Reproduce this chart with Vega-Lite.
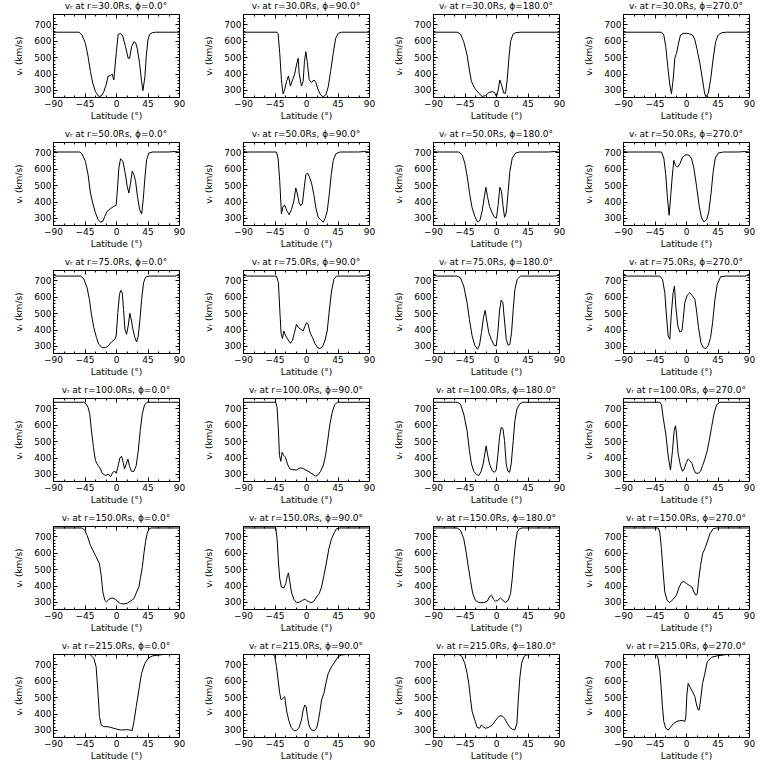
{
"$schema": "https://vega.github.io/schema/vega-lite/v6.json",
"padding": {"left": 14, "top": 1, "right": 0, "bottom": 0},
"background": "white",
"datasets": {
"panels": [
{"p":0,"title":"vᵣ at r=30.0Rs, ϕ=0.0°"},{"p":1,"title":"vᵣ at r=30.0Rs, ϕ=90.0°"},{"p":2,"title":"vᵣ at r=30.0Rs, ϕ=180.0°"},{"p":3,"title":"vᵣ at r=30.0Rs, ϕ=270.0°"},
{"p":4,"title":"vᵣ at r=50.0Rs, ϕ=0.0°"},{"p":5,"title":"vᵣ at r=50.0Rs, ϕ=90.0°"},{"p":6,"title":"vᵣ at r=50.0Rs, ϕ=180.0°"},{"p":7,"title":"vᵣ at r=50.0Rs, ϕ=270.0°"},
{"p":8,"title":"vᵣ at r=75.0Rs, ϕ=0.0°"},{"p":9,"title":"vᵣ at r=75.0Rs, ϕ=90.0°"},{"p":10,"title":"vᵣ at r=75.0Rs, ϕ=180.0°"},{"p":11,"title":"vᵣ at r=75.0Rs, ϕ=270.0°"},
{"p":12,"title":"vᵣ at r=100.0Rs, ϕ=0.0°"},{"p":13,"title":"vᵣ at r=100.0Rs, ϕ=90.0°"},{"p":14,"title":"vᵣ at r=100.0Rs, ϕ=180.0°"},{"p":15,"title":"vᵣ at r=100.0Rs, ϕ=270.0°"},
{"p":16,"title":"vᵣ at r=150.0Rs, ϕ=0.0°"},{"p":17,"title":"vᵣ at r=150.0Rs, ϕ=90.0°"},{"p":18,"title":"vᵣ at r=150.0Rs, ϕ=180.0°"},{"p":19,"title":"vᵣ at r=150.0Rs, ϕ=270.0°"},
{"p":20,"title":"vᵣ at r=215.0Rs, ϕ=0.0°"},{"p":21,"title":"vᵣ at r=215.0Rs, ϕ=90.0°"},{"p":22,"title":"vᵣ at r=215.0Rs, ϕ=180.0°"},{"p":23,"title":"vᵣ at r=215.0Rs, ϕ=270.0°"}
],
"curves": [
{"p":0,"lat":-90,"v":652},{"p":0,"lat":-53,"v":652},{"p":0,"lat":-48.5,"v":635},{"p":0,"lat":-43.7,"v":584},{"p":0,"lat":-39.9,"v":503},{"p":0,"lat":-36.5,"v":412},{"p":0,"lat":-33.2,"v":341},{"p":0,"lat":-29.4,"v":290},{"p":0,"lat":-24.6,"v":260},{"p":0,"lat":-20.8,"v":264},{"p":0,"lat":-17.4,"v":290},{"p":0,"lat":-14.1,"v":331},{"p":0,"lat":-11.2,"v":385},{"p":0,"lat":-7.9,"v":387},{"p":0,"lat":-5.5,"v":397},{"p":0,"lat":-3.1,"v":361},{"p":0,"lat":0.3,"v":523},{"p":0,"lat":3.1,"v":639},{"p":0,"lat":6.5,"v":645},{"p":0,"lat":9.8,"v":625},{"p":0,"lat":13.6,"v":564},{"p":0,"lat":17.4,"v":493},{"p":0,"lat":19.4,"v":493},{"p":0,"lat":22.2,"v":564},{"p":0,"lat":25.6,"v":594},{"p":0,"lat":28,"v":588},{"p":0,"lat":30.3,"v":554},{"p":0,"lat":33.7,"v":462},{"p":0,"lat":36.6,"v":351},{"p":0,"lat":38.5,"v":296},{"p":0,"lat":41.3,"v":381},{"p":0,"lat":43.2,"v":503},{"p":0,"lat":45.6,"v":605},{"p":0,"lat":48,"v":639},{"p":0,"lat":51.8,"v":649},{"p":0,"lat":56.6,"v":652},{"p":0,"lat":90,"v":652},
{"p":1,"lat":-90,"v":652},{"p":1,"lat":-41.5,"v":652},{"p":1,"lat":-39.9,"v":645},{"p":1,"lat":-37.5,"v":523},{"p":1,"lat":-35.1,"v":361},{"p":1,"lat":-32.7,"v":276},{"p":1,"lat":-30.3,"v":304},{"p":1,"lat":-27.9,"v":351},{"p":1,"lat":-25.1,"v":385},{"p":1,"lat":-22.2,"v":324},{"p":1,"lat":-19.3,"v":361},{"p":1,"lat":-16.5,"v":391},{"p":1,"lat":-13.6,"v":452},{"p":1,"lat":-11.2,"v":493},{"p":1,"lat":-9.8,"v":402},{"p":1,"lat":-6.5,"v":324},{"p":1,"lat":-4.1,"v":351},{"p":1,"lat":-2.2,"v":473},{"p":1,"lat":-0.2,"v":533},{"p":1,"lat":1.7,"v":473},{"p":1,"lat":4.6,"v":361},{"p":1,"lat":7.9,"v":345},{"p":1,"lat":11.2,"v":361},{"p":1,"lat":14.1,"v":345},{"p":1,"lat":17.4,"v":300},{"p":1,"lat":20.8,"v":270},{"p":1,"lat":24.6,"v":258},{"p":1,"lat":28.4,"v":270},{"p":1,"lat":31.8,"v":320},{"p":1,"lat":35.1,"v":412},{"p":1,"lat":38.9,"v":523},{"p":1,"lat":42.3,"v":615},{"p":1,"lat":46.1,"v":645},{"p":1,"lat":50.9,"v":652},{"p":1,"lat":90,"v":652},
{"p":2,"lat":-90,"v":652},{"p":2,"lat":-55.6,"v":652},{"p":2,"lat":-50.8,"v":641},{"p":2,"lat":-46.1,"v":594},{"p":2,"lat":-41.3,"v":513},{"p":2,"lat":-38,"v":422},{"p":2,"lat":-35.1,"v":351},{"p":2,"lat":-30.3,"v":310},{"p":2,"lat":-24.6,"v":280},{"p":2,"lat":-19.8,"v":260},{"p":2,"lat":-15,"v":266},{"p":2,"lat":-10.3,"v":284},{"p":2,"lat":-5.5,"v":290},{"p":2,"lat":-2.1,"v":284},{"p":2,"lat":0.7,"v":260},{"p":2,"lat":3.1,"v":300},{"p":2,"lat":5.5,"v":361},{"p":2,"lat":7.9,"v":331},{"p":2,"lat":11.2,"v":280},{"p":2,"lat":13.6,"v":280},{"p":2,"lat":16,"v":361},{"p":2,"lat":18.4,"v":493},{"p":2,"lat":20.8,"v":594},{"p":2,"lat":24.1,"v":639},{"p":2,"lat":27.9,"v":649},{"p":2,"lat":35.1,"v":652},{"p":2,"lat":90,"v":652},
{"p":3,"lat":-90,"v":652},{"p":3,"lat":-35.1,"v":652},{"p":3,"lat":-31.7,"v":635},{"p":3,"lat":-28.9,"v":564},{"p":3,"lat":-26,"v":442},{"p":3,"lat":-23.1,"v":331},{"p":3,"lat":-20.8,"v":276},{"p":3,"lat":-18.4,"v":361},{"p":3,"lat":-16,"v":493},{"p":3,"lat":-13.6,"v":523},{"p":3,"lat":-11.2,"v":574},{"p":3,"lat":-7.9,"v":635},{"p":3,"lat":-4,"v":645},{"p":3,"lat":3.1,"v":645},{"p":3,"lat":9.3,"v":635},{"p":3,"lat":12.7,"v":605},{"p":3,"lat":16,"v":544},{"p":3,"lat":19.8,"v":462},{"p":3,"lat":23.7,"v":361},{"p":3,"lat":26.5,"v":280},{"p":3,"lat":28.4,"v":258},{"p":3,"lat":31.8,"v":280},{"p":3,"lat":35.1,"v":361},{"p":3,"lat":38.9,"v":493},{"p":3,"lat":42.3,"v":594},{"p":3,"lat":46.1,"v":635},{"p":3,"lat":50.9,"v":649},{"p":3,"lat":58,"v":652},{"p":3,"lat":90,"v":652},
{"p":4,"lat":-90,"v":706},{"p":4,"lat":-84,"v":702},{"p":4,"lat":-51.8,"v":702},{"p":4,"lat":-48.5,"v":690},{"p":4,"lat":-43.7,"v":645},{"p":4,"lat":-39.9,"v":564},{"p":4,"lat":-36.5,"v":452},{"p":4,"lat":-33.2,"v":391},{"p":4,"lat":-29.4,"v":331},{"p":4,"lat":-25.5,"v":290},{"p":4,"lat":-22.2,"v":274},{"p":4,"lat":-18.8,"v":280},{"p":4,"lat":-15.9,"v":310},{"p":4,"lat":-12.6,"v":341},{"p":4,"lat":-7.9,"v":357},{"p":4,"lat":-3.1,"v":371},{"p":4,"lat":0.2,"v":377},{"p":4,"lat":2.2,"v":483},{"p":4,"lat":4.1,"v":605},{"p":4,"lat":6.5,"v":661},{"p":4,"lat":9.8,"v":645},{"p":4,"lat":12.7,"v":584},{"p":4,"lat":16,"v":493},{"p":4,"lat":18.4,"v":452},{"p":4,"lat":20.8,"v":513},{"p":4,"lat":23.2,"v":584},{"p":4,"lat":25.6,"v":564},{"p":4,"lat":28,"v":523},{"p":4,"lat":30.3,"v":442},{"p":4,"lat":33.7,"v":351},{"p":4,"lat":36.6,"v":324},{"p":4,"lat":38.9,"v":412},{"p":4,"lat":41.3,"v":544},{"p":4,"lat":43.7,"v":655},{"p":4,"lat":47.1,"v":696},{"p":4,"lat":51.8,"v":702},{"p":4,"lat":75,"v":702},{"p":4,"lat":84,"v":705},{"p":4,"lat":90,"v":702},
{"p":5,"lat":-90,"v":706},{"p":5,"lat":-84,"v":702},{"p":5,"lat":-42.2,"v":702},{"p":5,"lat":-39.9,"v":665},{"p":5,"lat":-37.5,"v":523},{"p":5,"lat":-35.1,"v":324},{"p":5,"lat":-32.7,"v":371},{"p":5,"lat":-30.3,"v":377},{"p":5,"lat":-27,"v":341},{"p":5,"lat":-24.1,"v":320},{"p":5,"lat":-20.8,"v":351},{"p":5,"lat":-17.4,"v":402},{"p":5,"lat":-14.6,"v":483},{"p":5,"lat":-12.6,"v":452},{"p":5,"lat":-9.8,"v":391},{"p":5,"lat":-7.4,"v":375},{"p":5,"lat":-5,"v":391},{"p":5,"lat":-2.6,"v":483},{"p":5,"lat":-0.2,"v":564},{"p":5,"lat":2.1,"v":574},{"p":5,"lat":4.5,"v":554},{"p":5,"lat":7.9,"v":513},{"p":5,"lat":11.2,"v":442},{"p":5,"lat":14.1,"v":361},{"p":5,"lat":17.4,"v":304},{"p":5,"lat":20.8,"v":290},{"p":5,"lat":24.6,"v":274},{"p":5,"lat":27.5,"v":300},{"p":5,"lat":30.3,"v":341},{"p":5,"lat":33.2,"v":442},{"p":5,"lat":36.1,"v":564},{"p":5,"lat":38.9,"v":651},{"p":5,"lat":42.8,"v":692},{"p":5,"lat":48.5,"v":702},{"p":5,"lat":75,"v":702},{"p":5,"lat":84,"v":705},{"p":5,"lat":90,"v":702},
{"p":6,"lat":-90,"v":706},{"p":6,"lat":-84,"v":702},{"p":6,"lat":-53.2,"v":702},{"p":6,"lat":-48.5,"v":686},{"p":6,"lat":-44.6,"v":635},{"p":6,"lat":-40.8,"v":544},{"p":6,"lat":-37.5,"v":442},{"p":6,"lat":-34.1,"v":361},{"p":6,"lat":-30.3,"v":310},{"p":6,"lat":-26.5,"v":276},{"p":6,"lat":-23.1,"v":284},{"p":6,"lat":-19.8,"v":341},{"p":6,"lat":-16.9,"v":422},{"p":6,"lat":-14.5,"v":487},{"p":6,"lat":-12.2,"v":432},{"p":6,"lat":-9.3,"v":371},{"p":6,"lat":-5.5,"v":331},{"p":6,"lat":-2.1,"v":304},{"p":6,"lat":0.7,"v":300},{"p":6,"lat":3.1,"v":381},{"p":6,"lat":5.5,"v":487},{"p":6,"lat":7.9,"v":462},{"p":6,"lat":9.8,"v":381},{"p":6,"lat":12.2,"v":304},{"p":6,"lat":14.6,"v":331},{"p":6,"lat":17.4,"v":462},{"p":6,"lat":19.8,"v":584},{"p":6,"lat":23.2,"v":665},{"p":6,"lat":28,"v":696},{"p":6,"lat":33.7,"v":702},{"p":6,"lat":75,"v":702},{"p":6,"lat":84,"v":705},{"p":6,"lat":90,"v":702},
{"p":7,"lat":-90,"v":706},{"p":7,"lat":-84,"v":702},{"p":7,"lat":-35.1,"v":702},{"p":7,"lat":-31.7,"v":665},{"p":7,"lat":-28.9,"v":564},{"p":7,"lat":-26.5,"v":422},{"p":7,"lat":-24.1,"v":316},{"p":7,"lat":-21.7,"v":442},{"p":7,"lat":-19.8,"v":544},{"p":7,"lat":-17.4,"v":651},{"p":7,"lat":-15,"v":621},{"p":7,"lat":-12.2,"v":609},{"p":7,"lat":-8.8,"v":629},{"p":7,"lat":-5,"v":670},{"p":7,"lat":-0.2,"v":686},{"p":7,"lat":4.5,"v":682},{"p":7,"lat":7.9,"v":661},{"p":7,"lat":11.2,"v":605},{"p":7,"lat":15.1,"v":493},{"p":7,"lat":18.9,"v":371},{"p":7,"lat":22.2,"v":300},{"p":7,"lat":25.6,"v":276},{"p":7,"lat":29.4,"v":290},{"p":7,"lat":32.3,"v":331},{"p":7,"lat":35.6,"v":442},{"p":7,"lat":38.9,"v":584},{"p":7,"lat":41.8,"v":665},{"p":7,"lat":46.1,"v":696},{"p":7,"lat":53.3,"v":702},{"p":7,"lat":75,"v":702},{"p":7,"lat":84,"v":705},{"p":7,"lat":90,"v":702},
{"p":8,"lat":-90,"v":731},{"p":8,"lat":-84,"v":726},{"p":8,"lat":-50.8,"v":726},{"p":8,"lat":-46.1,"v":710},{"p":8,"lat":-41.3,"v":655},{"p":8,"lat":-38,"v":584},{"p":8,"lat":-35.1,"v":493},{"p":8,"lat":-31.7,"v":412},{"p":8,"lat":-27.9,"v":351},{"p":8,"lat":-24.6,"v":310},{"p":8,"lat":-19.8,"v":290},{"p":8,"lat":-15,"v":290},{"p":8,"lat":-11.2,"v":300},{"p":8,"lat":-6.4,"v":324},{"p":8,"lat":-1.7,"v":341},{"p":8,"lat":0.3,"v":361},{"p":8,"lat":2.6,"v":503},{"p":8,"lat":5,"v":615},{"p":8,"lat":6.9,"v":639},{"p":8,"lat":8.9,"v":625},{"p":8,"lat":10.8,"v":523},{"p":8,"lat":12.7,"v":402},{"p":8,"lat":15.1,"v":371},{"p":8,"lat":17.4,"v":422},{"p":8,"lat":19.8,"v":499},{"p":8,"lat":22.2,"v":452},{"p":8,"lat":24.1,"v":402},{"p":8,"lat":27,"v":351},{"p":8,"lat":29.4,"v":324},{"p":8,"lat":31.8,"v":361},{"p":8,"lat":34.2,"v":462},{"p":8,"lat":36.6,"v":584},{"p":8,"lat":39.4,"v":686},{"p":8,"lat":42.3,"v":720},{"p":8,"lat":47.1,"v":726},{"p":8,"lat":84,"v":726},{"p":8,"lat":90,"v":731},
{"p":9,"lat":-90,"v":731},{"p":9,"lat":-84,"v":726},{"p":9,"lat":-42.2,"v":726},{"p":9,"lat":-39.4,"v":686},{"p":9,"lat":-37.5,"v":523},{"p":9,"lat":-35.6,"v":377},{"p":9,"lat":-33.6,"v":345},{"p":9,"lat":-31.7,"v":391},{"p":9,"lat":-28.9,"v":361},{"p":9,"lat":-25.5,"v":337},{"p":9,"lat":-22.2,"v":316},{"p":9,"lat":-19.3,"v":335},{"p":9,"lat":-16.5,"v":381},{"p":9,"lat":-13.6,"v":432},{"p":9,"lat":-10.7,"v":412},{"p":9,"lat":-7.4,"v":402},{"p":9,"lat":-4.1,"v":391},{"p":9,"lat":-1.7,"v":418},{"p":9,"lat":0.7,"v":442},{"p":9,"lat":3.1,"v":432},{"p":9,"lat":5.5,"v":385},{"p":9,"lat":9.3,"v":351},{"p":9,"lat":12.7,"v":316},{"p":9,"lat":16.5,"v":290},{"p":9,"lat":19.8,"v":284},{"p":9,"lat":23.7,"v":296},{"p":9,"lat":27,"v":331},{"p":9,"lat":30.3,"v":391},{"p":9,"lat":33.2,"v":513},{"p":9,"lat":36.5,"v":635},{"p":9,"lat":39.9,"v":706},{"p":9,"lat":43.7,"v":726},{"p":9,"lat":84,"v":726},{"p":9,"lat":90,"v":731},
{"p":10,"lat":-90,"v":731},{"p":10,"lat":-84,"v":726},{"p":10,"lat":-55.6,"v":726},{"p":10,"lat":-50.8,"v":716},{"p":10,"lat":-46.1,"v":665},{"p":10,"lat":-41.3,"v":564},{"p":10,"lat":-38,"v":462},{"p":10,"lat":-34.1,"v":361},{"p":10,"lat":-30.3,"v":304},{"p":10,"lat":-26.5,"v":280},{"p":10,"lat":-23.6,"v":304},{"p":10,"lat":-20.8,"v":381},{"p":10,"lat":-17.9,"v":473},{"p":10,"lat":-15.5,"v":517},{"p":10,"lat":-13.1,"v":452},{"p":10,"lat":-10.3,"v":381},{"p":10,"lat":-6.4,"v":337},{"p":10,"lat":-2.6,"v":304},{"p":10,"lat":0.3,"v":300},{"p":10,"lat":2.6,"v":381},{"p":10,"lat":5,"v":513},{"p":10,"lat":7.4,"v":580},{"p":10,"lat":9.8,"v":564},{"p":10,"lat":12.2,"v":452},{"p":10,"lat":14.6,"v":341},{"p":10,"lat":17.4,"v":304},{"p":10,"lat":19.8,"v":310},{"p":10,"lat":22.2,"v":381},{"p":10,"lat":24.6,"v":523},{"p":10,"lat":27,"v":645},{"p":10,"lat":30.3,"v":706},{"p":10,"lat":35.1,"v":726},{"p":10,"lat":84,"v":726},{"p":10,"lat":90,"v":731},
{"p":11,"lat":-90,"v":731},{"p":11,"lat":-84,"v":726},{"p":11,"lat":-37.5,"v":726},{"p":11,"lat":-33.6,"v":706},{"p":11,"lat":-30.3,"v":625},{"p":11,"lat":-27.9,"v":483},{"p":11,"lat":-25.5,"v":361},{"p":11,"lat":-23.1,"v":341},{"p":11,"lat":-21.2,"v":483},{"p":11,"lat":-18.4,"v":625},{"p":11,"lat":-16.5,"v":665},{"p":11,"lat":-14.6,"v":544},{"p":11,"lat":-11.7,"v":422},{"p":11,"lat":-8.8,"v":385},{"p":11,"lat":-5.9,"v":391},{"p":11,"lat":-4,"v":462},{"p":11,"lat":-1.7,"v":564},{"p":11,"lat":1.7,"v":609},{"p":11,"lat":5.5,"v":625},{"p":11,"lat":9.3,"v":605},{"p":11,"lat":12.7,"v":584},{"p":11,"lat":15.1,"v":513},{"p":11,"lat":17.9,"v":412},{"p":11,"lat":21.3,"v":320},{"p":11,"lat":24.6,"v":290},{"p":11,"lat":28.4,"v":284},{"p":11,"lat":31.8,"v":304},{"p":11,"lat":35.1,"v":351},{"p":11,"lat":38,"v":442},{"p":11,"lat":41.3,"v":584},{"p":11,"lat":44.7,"v":676},{"p":11,"lat":49.4,"v":722},{"p":11,"lat":58,"v":726},{"p":11,"lat":84,"v":726},{"p":11,"lat":90,"v":731},
{"p":12,"lat":-90,"v":737},{"p":12,"lat":-46.1,"v":737},{"p":12,"lat":-42.7,"v":726},{"p":12,"lat":-39.9,"v":706},{"p":12,"lat":-37.5,"v":665},{"p":12,"lat":-35.1,"v":564},{"p":12,"lat":-32.2,"v":462},{"p":12,"lat":-29.4,"v":381},{"p":12,"lat":-25.5,"v":351},{"p":12,"lat":-22.2,"v":331},{"p":12,"lat":-19.8,"v":304},{"p":12,"lat":-16.9,"v":296},{"p":12,"lat":-14.1,"v":290},{"p":12,"lat":-11.2,"v":300},{"p":12,"lat":-7.9,"v":284},{"p":12,"lat":-4.5,"v":310},{"p":12,"lat":-1.7,"v":316},{"p":12,"lat":0.3,"v":304},{"p":12,"lat":2.6,"v":341},{"p":12,"lat":5.5,"v":397},{"p":12,"lat":7.9,"v":408},{"p":12,"lat":10.3,"v":371},{"p":12,"lat":12.2,"v":331},{"p":12,"lat":14.6,"v":361},{"p":12,"lat":17,"v":391},{"p":12,"lat":19.4,"v":345},{"p":12,"lat":22.2,"v":316},{"p":12,"lat":25.6,"v":316},{"p":12,"lat":28.9,"v":351},{"p":12,"lat":31.8,"v":442},{"p":12,"lat":34.6,"v":564},{"p":12,"lat":37.5,"v":665},{"p":12,"lat":40.8,"v":722},{"p":12,"lat":44.7,"v":737},{"p":12,"lat":90,"v":737},
{"p":13,"lat":-90,"v":737},{"p":13,"lat":-43.2,"v":737},{"p":13,"lat":-41.3,"v":706},{"p":13,"lat":-39.4,"v":564},{"p":13,"lat":-37.9,"v":412},{"p":13,"lat":-36,"v":377},{"p":13,"lat":-34.1,"v":432},{"p":13,"lat":-31.7,"v":412},{"p":13,"lat":-29.4,"v":402},{"p":13,"lat":-26.5,"v":361},{"p":13,"lat":-23.1,"v":331},{"p":13,"lat":-19.3,"v":326},{"p":13,"lat":-13.6,"v":324},{"p":13,"lat":-8.8,"v":337},{"p":13,"lat":-5,"v":335},{"p":13,"lat":-0.2,"v":324},{"p":13,"lat":5.5,"v":310},{"p":13,"lat":10.3,"v":296},{"p":13,"lat":14.1,"v":286},{"p":13,"lat":17.4,"v":296},{"p":13,"lat":20.8,"v":316},{"p":13,"lat":24.6,"v":351},{"p":13,"lat":27.9,"v":412},{"p":13,"lat":31.3,"v":513},{"p":13,"lat":34.2,"v":605},{"p":13,"lat":37.5,"v":676},{"p":13,"lat":40.8,"v":722},{"p":13,"lat":45.1,"v":737},{"p":13,"lat":90,"v":737},
{"p":14,"lat":-90,"v":737},{"p":14,"lat":-55.6,"v":737},{"p":14,"lat":-50.8,"v":726},{"p":14,"lat":-46.1,"v":665},{"p":14,"lat":-41.3,"v":564},{"p":14,"lat":-38,"v":442},{"p":14,"lat":-35.1,"v":361},{"p":14,"lat":-31.7,"v":316},{"p":14,"lat":-27.9,"v":296},{"p":14,"lat":-24.6,"v":290},{"p":14,"lat":-21.2,"v":316},{"p":14,"lat":-18.4,"v":361},{"p":14,"lat":-16,"v":422},{"p":14,"lat":-14.1,"v":471},{"p":14,"lat":-12.2,"v":422},{"p":14,"lat":-9.3,"v":361},{"p":14,"lat":-5.5,"v":320},{"p":14,"lat":-2.1,"v":310},{"p":14,"lat":0.3,"v":324},{"p":14,"lat":2.6,"v":412},{"p":14,"lat":5,"v":523},{"p":14,"lat":7.4,"v":584},{"p":14,"lat":9.8,"v":578},{"p":14,"lat":12.2,"v":503},{"p":14,"lat":14.6,"v":361},{"p":14,"lat":17,"v":316},{"p":14,"lat":19.4,"v":310},{"p":14,"lat":21.7,"v":361},{"p":14,"lat":24.6,"v":503},{"p":14,"lat":27,"v":625},{"p":14,"lat":29.9,"v":696},{"p":14,"lat":33.7,"v":726},{"p":14,"lat":37.5,"v":737},{"p":14,"lat":90,"v":737},
{"p":15,"lat":-90,"v":737},{"p":15,"lat":-37.5,"v":737},{"p":15,"lat":-35,"v":722},{"p":15,"lat":-32.7,"v":645},{"p":15,"lat":-28.9,"v":544},{"p":15,"lat":-25.5,"v":412},{"p":15,"lat":-22.2,"v":324},{"p":15,"lat":-19.3,"v":442},{"p":15,"lat":-16.9,"v":564},{"p":15,"lat":-15,"v":594},{"p":15,"lat":-13.6,"v":544},{"p":15,"lat":-11.2,"v":422},{"p":15,"lat":-7.9,"v":351},{"p":15,"lat":-5,"v":316},{"p":15,"lat":-2.6,"v":331},{"p":15,"lat":0.7,"v":371},{"p":15,"lat":3.1,"v":391},{"p":15,"lat":5.5,"v":381},{"p":15,"lat":8.5,"v":365},{"p":15,"lat":11,"v":330},{"p":15,"lat":13.6,"v":306},{"p":15,"lat":17.4,"v":304},{"p":15,"lat":20.8,"v":316},{"p":15,"lat":23.7,"v":351},{"p":15,"lat":27,"v":391},{"p":15,"lat":30.3,"v":442},{"p":15,"lat":33.2,"v":503},{"p":15,"lat":36.5,"v":584},{"p":15,"lat":39.9,"v":665},{"p":15,"lat":43.7,"v":722},{"p":15,"lat":48.5,"v":737},{"p":15,"lat":90,"v":737},
{"p":16,"lat":-90,"v":751},{"p":16,"lat":-48.5,"v":751},{"p":16,"lat":-44.6,"v":737},{"p":16,"lat":-41.3,"v":706},{"p":16,"lat":-36.5,"v":645},{"p":16,"lat":-29.4,"v":584},{"p":16,"lat":-23.6,"v":533},{"p":16,"lat":-21.2,"v":462},{"p":16,"lat":-18.8,"v":361},{"p":16,"lat":-16,"v":310},{"p":16,"lat":-13.6,"v":300},{"p":16,"lat":-10.3,"v":316},{"p":16,"lat":-5.5,"v":324},{"p":16,"lat":-0.7,"v":316},{"p":16,"lat":3,"v":300},{"p":16,"lat":6.5,"v":290},{"p":16,"lat":11.2,"v":288},{"p":16,"lat":16,"v":292},{"p":16,"lat":20.8,"v":305},{"p":16,"lat":25.6,"v":320},{"p":16,"lat":29.4,"v":360},{"p":16,"lat":32.7,"v":391},{"p":16,"lat":35.1,"v":450},{"p":16,"lat":37.5,"v":510},{"p":16,"lat":40,"v":600},{"p":16,"lat":42.3,"v":670},{"p":16,"lat":44.7,"v":720},{"p":16,"lat":47.1,"v":743},{"p":16,"lat":50,"v":751},{"p":16,"lat":90,"v":751},
{"p":17,"lat":-90,"v":751},{"p":17,"lat":-43.2,"v":751},{"p":17,"lat":-41.3,"v":686},{"p":17,"lat":-39.4,"v":544},{"p":17,"lat":-37.5,"v":442},{"p":17,"lat":-35.1,"v":391},{"p":17,"lat":-31.7,"v":385},{"p":17,"lat":-28.9,"v":412},{"p":17,"lat":-26.5,"v":462},{"p":17,"lat":-25.1,"v":477},{"p":17,"lat":-23.1,"v":422},{"p":17,"lat":-20.8,"v":361},{"p":17,"lat":-17.4,"v":316},{"p":17,"lat":-13.6,"v":296},{"p":17,"lat":-8.8,"v":300},{"p":17,"lat":-5,"v":310},{"p":17,"lat":-1.7,"v":316},{"p":17,"lat":0.7,"v":310},{"p":17,"lat":4.5,"v":300},{"p":17,"lat":8.4,"v":296},{"p":17,"lat":11.2,"v":304},{"p":17,"lat":15.1,"v":331},{"p":17,"lat":18.9,"v":351},{"p":17,"lat":22.2,"v":391},{"p":17,"lat":25.6,"v":462},{"p":17,"lat":29.4,"v":544},{"p":17,"lat":32.7,"v":625},{"p":17,"lat":36.5,"v":686},{"p":17,"lat":40.4,"v":722},{"p":17,"lat":43.7,"v":747},{"p":17,"lat":48.5,"v":751},{"p":17,"lat":90,"v":751},
{"p":18,"lat":-90,"v":751},{"p":18,"lat":-55.6,"v":751},{"p":18,"lat":-50.8,"v":737},{"p":18,"lat":-46.1,"v":686},{"p":18,"lat":-42.7,"v":605},{"p":18,"lat":-39.9,"v":523},{"p":18,"lat":-36.5,"v":432},{"p":18,"lat":-33.2,"v":351},{"p":18,"lat":-29.4,"v":310},{"p":18,"lat":-24.6,"v":296},{"p":18,"lat":-17.4,"v":296},{"p":18,"lat":-12.6,"v":304},{"p":18,"lat":-9.3,"v":331},{"p":18,"lat":-6.4,"v":341},{"p":18,"lat":-3.6,"v":316},{"p":18,"lat":-0.7,"v":304},{"p":18,"lat":2.6,"v":310},{"p":18,"lat":6.5,"v":324},{"p":18,"lat":9.8,"v":310},{"p":18,"lat":13.6,"v":296},{"p":18,"lat":17.4,"v":310},{"p":18,"lat":20.8,"v":351},{"p":18,"lat":23.2,"v":442},{"p":18,"lat":25.6,"v":564},{"p":18,"lat":28,"v":665},{"p":18,"lat":30.3,"v":726},{"p":18,"lat":33.7,"v":747},{"p":18,"lat":37.5,"v":751},{"p":18,"lat":90,"v":751},
{"p":19,"lat":-90,"v":751},{"p":19,"lat":-39.9,"v":751},{"p":19,"lat":-37.5,"v":726},{"p":19,"lat":-35.1,"v":625},{"p":19,"lat":-32.7,"v":483},{"p":19,"lat":-30.3,"v":361},{"p":19,"lat":-27,"v":310},{"p":19,"lat":-23.1,"v":296},{"p":19,"lat":-18.4,"v":316},{"p":19,"lat":-13.6,"v":341},{"p":19,"lat":-9.8,"v":391},{"p":19,"lat":-6.4,"v":418},{"p":19,"lat":-3.1,"v":426},{"p":19,"lat":0.7,"v":412},{"p":19,"lat":4.5,"v":402},{"p":19,"lat":8.4,"v":391},{"p":19,"lat":11.2,"v":361},{"p":19,"lat":14.1,"v":341},{"p":19,"lat":16,"v":351},{"p":19,"lat":18.4,"v":442},{"p":19,"lat":20.8,"v":523},{"p":19,"lat":23.7,"v":594},{"p":19,"lat":27,"v":625},{"p":19,"lat":30.3,"v":665},{"p":19,"lat":34.2,"v":716},{"p":19,"lat":38.9,"v":747},{"p":19,"lat":43.7,"v":751},{"p":19,"lat":90,"v":751},
{"p":20,"lat":-90,"v":761},{"p":20,"lat":-40,"v":761},{"p":20,"lat":-36.5,"v":757},{"p":20,"lat":-31.7,"v":737},{"p":20,"lat":-28.4,"v":686},{"p":20,"lat":-26,"v":544},{"p":20,"lat":-23.6,"v":381},{"p":20,"lat":-21.2,"v":331},{"p":20,"lat":-17.4,"v":320},{"p":20,"lat":-12.6,"v":320},{"p":20,"lat":-7.9,"v":316},{"p":20,"lat":-3.1,"v":310},{"p":20,"lat":1.7,"v":304},{"p":20,"lat":6.5,"v":300},{"p":20,"lat":11.2,"v":300},{"p":20,"lat":14.6,"v":302},{"p":20,"lat":19.4,"v":300},{"p":20,"lat":23.2,"v":296},{"p":20,"lat":25.6,"v":351},{"p":20,"lat":28.9,"v":442},{"p":20,"lat":32.7,"v":544},{"p":20,"lat":36.5,"v":645},{"p":20,"lat":41.3,"v":706},{"p":20,"lat":46.1,"v":737},{"p":20,"lat":51.8,"v":751},{"p":20,"lat":61.4,"v":757},{"p":20,"lat":70,"v":761},{"p":20,"lat":90,"v":761},
{"p":21,"lat":-90,"v":761},{"p":21,"lat":-47,"v":761},{"p":21,"lat":-44.6,"v":747},{"p":21,"lat":-42.2,"v":686},{"p":21,"lat":-39.9,"v":605},{"p":21,"lat":-37.5,"v":523},{"p":21,"lat":-35.6,"v":483},{"p":21,"lat":-32.7,"v":493},{"p":21,"lat":-30.3,"v":503},{"p":21,"lat":-28.9,"v":452},{"p":21,"lat":-27,"v":402},{"p":21,"lat":-24.1,"v":351},{"p":21,"lat":-21.2,"v":316},{"p":21,"lat":-17.4,"v":296},{"p":21,"lat":-13.6,"v":296},{"p":21,"lat":-9.8,"v":316},{"p":21,"lat":-6.5,"v":361},{"p":21,"lat":-4.1,"v":422},{"p":21,"lat":-1.7,"v":452},{"p":21,"lat":0.2,"v":442},{"p":21,"lat":2.1,"v":381},{"p":21,"lat":4.5,"v":324},{"p":21,"lat":7.9,"v":300},{"p":21,"lat":11.6,"v":296},{"p":21,"lat":15.1,"v":310},{"p":21,"lat":17.4,"v":351},{"p":21,"lat":19.8,"v":412},{"p":21,"lat":22.2,"v":483},{"p":21,"lat":25.6,"v":523},{"p":21,"lat":28.4,"v":584},{"p":21,"lat":31.8,"v":645},{"p":21,"lat":36.5,"v":686},{"p":21,"lat":41.3,"v":716},{"p":21,"lat":46.1,"v":747},{"p":21,"lat":50.9,"v":757},{"p":21,"lat":60,"v":761},{"p":21,"lat":90,"v":761},
{"p":22,"lat":-90,"v":761},{"p":22,"lat":-53.2,"v":761},{"p":22,"lat":-48.5,"v":747},{"p":22,"lat":-44.6,"v":706},{"p":22,"lat":-41.3,"v":645},{"p":22,"lat":-38.9,"v":584},{"p":22,"lat":-36.5,"v":493},{"p":22,"lat":-34.1,"v":412},{"p":22,"lat":-30.3,"v":361},{"p":22,"lat":-27,"v":316},{"p":22,"lat":-23.6,"v":310},{"p":22,"lat":-20.8,"v":331},{"p":22,"lat":-18.4,"v":320},{"p":22,"lat":-15,"v":310},{"p":22,"lat":-10.3,"v":316},{"p":22,"lat":-5.5,"v":331},{"p":22,"lat":-1.7,"v":351},{"p":22,"lat":1.7,"v":371},{"p":22,"lat":5,"v":385},{"p":22,"lat":8.9,"v":385},{"p":22,"lat":12.2,"v":371},{"p":22,"lat":16,"v":341},{"p":22,"lat":19.8,"v":316},{"p":22,"lat":23.2,"v":305},{"p":22,"lat":27,"v":300},{"p":22,"lat":29.9,"v":341},{"p":22,"lat":31.8,"v":483},{"p":22,"lat":34.2,"v":625},{"p":22,"lat":36.6,"v":706},{"p":22,"lat":39.9,"v":747},{"p":22,"lat":43.2,"v":757},{"p":22,"lat":50,"v":761},{"p":22,"lat":90,"v":761},
{"p":23,"lat":-90,"v":761},{"p":23,"lat":-42.2,"v":761},{"p":23,"lat":-39.9,"v":737},{"p":23,"lat":-37.5,"v":665},{"p":23,"lat":-35.6,"v":564},{"p":23,"lat":-33.7,"v":442},{"p":23,"lat":-31.7,"v":351},{"p":23,"lat":-28.9,"v":310},{"p":23,"lat":-25.5,"v":300},{"p":23,"lat":-22.2,"v":316},{"p":23,"lat":-18.4,"v":337},{"p":23,"lat":-13.6,"v":351},{"p":23,"lat":-8.8,"v":357},{"p":23,"lat":-4,"v":357},{"p":23,"lat":-1.7,"v":351},{"p":23,"lat":-0.2,"v":381},{"p":23,"lat":1.2,"v":513},{"p":23,"lat":3.1,"v":584},{"p":23,"lat":5.5,"v":564},{"p":23,"lat":9.3,"v":533},{"p":23,"lat":12.7,"v":503},{"p":23,"lat":15.1,"v":452},{"p":23,"lat":17.4,"v":422},{"p":23,"lat":18.9,"v":422},{"p":23,"lat":20.8,"v":483},{"p":23,"lat":23.7,"v":584},{"p":23,"lat":27,"v":645},{"p":23,"lat":30.3,"v":716},{"p":23,"lat":36.5,"v":743},{"p":23,"lat":43.7,"v":751},{"p":23,"lat":53.3,"v":757},{"p":23,"lat":60,"v":761},{"p":23,"lat":90,"v":761}
]
},
"data": {"name": "curves"},
"transform": [{"lookup": "p", "from": {"data": {"name": "panels"}, "key": "p", "fields": ["title"]}}],
"facet": {"field": "title", "type": "nominal", "sort": {"field": "p", "op": "min"},
  "header": {"title": null, "labelFont": "DejaVu Sans", "labelFontSize": 9, "labelPadding": 3, "labelColor": "black"}},
"columns": 4,
"spacing": {"column": 64, "row": 45},
"bounds": "flush",
"resolve": {"axis": {"x": "independent", "y": "independent"}},
"spec": {
  "width": 126, "height": 83,
  "layer": [
    {
      "mark": {"type": "line", "color": "black", "strokeWidth": 1, "clip": true},
      "encoding": {
        "x": {"field": "lat", "type": "quantitative", "scale": {"domain": [-90, 90], "nice": false},
          "axis": {"orient": "bottom", "values": [-90, -45, 0, 45, 90], "title": "Latitude (°)", "labelFlush": false}},
        "y": {"field": "v", "type": "quantitative", "scale": {"domain": [257, 763], "nice": false, "zero": false},
          "axis": {"orient": "left", "values": [300, 400, 500, 600, 700], "title": "vᵣ (km/s)", "titlePadding": 10}}
      }
    },
    {
      "mark": {"type": "line", "strokeOpacity": 0},
      "encoding": {
        "x": {"field": "lat", "type": "quantitative", "scale": {"domain": [-90, 90], "nice": false},
          "axis": {"orient": "top", "values": [-90, -45, 0, 45, 90], "labels": false, "title": null}},
        "y": {"field": "v", "type": "quantitative", "scale": {"domain": [257, 763], "nice": false, "zero": false},
          "axis": {"orient": "right", "values": [300, 400, 500, 600, 700], "labels": false, "title": null}}
      }
    },
    {
      "mark": {"type": "line", "strokeOpacity": 0},
      "encoding": {
        "x": {"field": "lat", "type": "quantitative", "scale": {"domain": [-90, 90], "nice": false},
          "axis": {"orient": "bottom", "values": [-75, -60, -30, -15, 15, 30, 60, 75], "labels": false, "title": null, "tickSize": -2}},
        "y": {"field": "v", "type": "quantitative", "scale": {"domain": [257, 763], "nice": false, "zero": false},
          "axis": {"orient": "left", "values": [260, 280, 320, 340, 360, 380, 420, 440, 460, 480, 520, 540, 560, 580, 620, 640, 660, 680, 720, 740, 760], "labels": false, "title": null, "tickSize": -2}}
      }
    },
    {
      "mark": {"type": "line", "strokeOpacity": 0},
      "encoding": {
        "x": {"field": "lat", "type": "quantitative", "scale": {"domain": [-90, 90], "nice": false},
          "axis": {"orient": "top", "values": [-75, -60, -30, -15, 15, 30, 60, 75], "labels": false, "title": null, "tickSize": -2}},
        "y": {"field": "v", "type": "quantitative", "scale": {"domain": [257, 763], "nice": false, "zero": false},
          "axis": {"orient": "right", "values": [260, 280, 320, 340, 360, 380, 420, 440, 460, 480, 520, 540, 560, 580, 620, 640, 660, 680, 720, 740, 760], "labels": false, "title": null, "tickSize": -2}}
      }
    }
  ],
  "resolve": {"axis": {"x": "independent", "y": "independent"}}
},
"config": {
  "view": {"stroke": "black", "strokeWidth": 1},
  "axis": {"grid": false, "domain": false, "tickColor": "black", "tickSize": -4, "labelPadding": 6, "labelFont": "DejaVu Sans", "labelFontSize": 9, "labelColor": "black", "titleFont": "DejaVu Sans", "titleFontSize": 9, "titleFontWeight": "normal", "titleColor": "black", "titlePadding": 3, "labelOverlap": false}
}
}
